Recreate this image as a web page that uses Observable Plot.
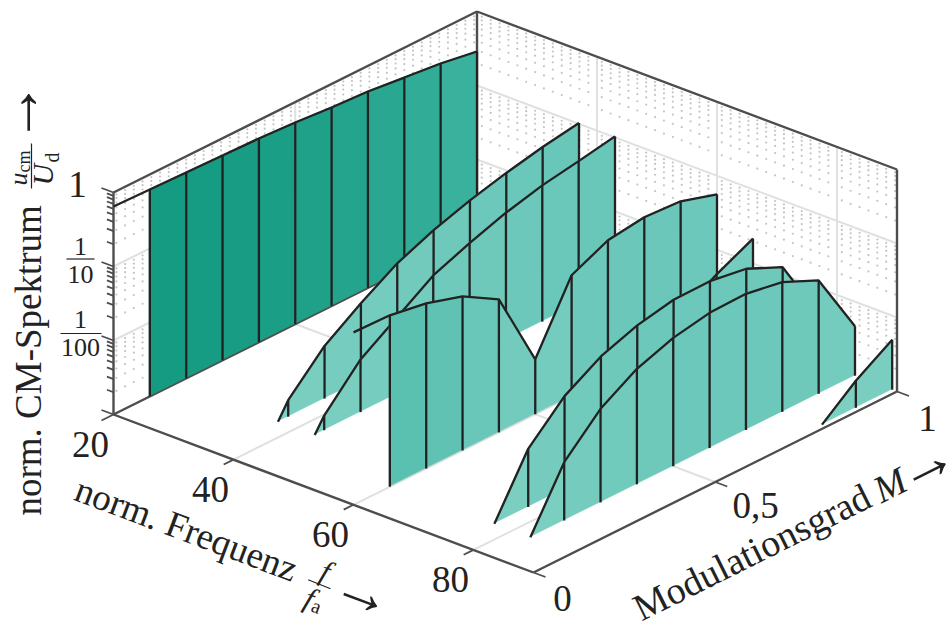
<!DOCTYPE html>
<html><head><meta charset="utf-8">
<script src="https://cdn.jsdelivr.net/npm/d3@7"></script>
<script src="https://cdn.jsdelivr.net/npm/@observablehq/plot@0.6"></script>
<style>html,body{margin:0;padding:0;background:#fff}svg{display:block}</style>
</head><body><div id="chart"></div>
<script>
// Values: spectral lines (frequency), modulation index, amplitude
const freqs = [20, 37, 43, 60, 66, 77, 83, 89.2];
const M20 = [0,.1,.2,.3,.4,.5,.6,.7,.8,.9,1];
const U20 = [.647,.625,.604,.583,.564,.529,.480,.450,.395,.348,.288];
const M37 = [.172,.2,.3,.4,.5,.6,.7,.8,.9,1];
const U37 = [.001,.00167,.00514,.01104,.0218,.0348,.0502,.0670,.0855,.1028];
const M43 = [.174,.2,.3,.4,.5,.6,.7,.8,.9,1];
const U43 = [.001,.00158,.00515,.01084,.0228,.0355,.0520,.0693,.0839,.1033];
const M60 = [0,.1,.2,.3,.4,.5,.6,.7,.8,.9,1];
const U60 = [.214,.207,.171,.121,.0627,.00553,.0431,.0728,.0847,.0794,.0562];
const M66 = [.65,.7,.8,.9,1];
const U66 = [.001,.00254,.00647,.01245,.0216];
const M77 = [.107,.2,.3,.4,.5,.6,.7,.8,.9,1];
const U77 = [.001,.00611,.0179,.0351,.0524,.0664,.0673,.0564,.0337,.00446];
const M83 = [.107,.2,.3,.4,.5,.6,.7,.8,.9,1];
const U83 = [.001,.00614,.0184,.0364,.0543,.0673,.0693,.0566,.0340,.00467];
const M89 = [.807,.9,1];
const U89 = [.001,.00232,.00474];
const seriesM = [M20,M37,M43,M60,M66,M77,M83,M89];
const seriesU = [U20,U37,U43,U60,U66,U77,U83,U89];
const fTicks = [20,40,60,80];
const mTicks = [0,.5,1];
const uMajor = [.001,.01,.1,1];
const mantissas = [2,3,4,5,6,7,8,9];

// 3-D box → drawing plane
const fHat = d3.scaleLinear([20,90],[0,1]);
const zHat = d3.scaleLog([.001,1],[0,1]);
const px = (f,M) => 113 + 420*fHat(f) + 363.5*M;
const py = (f,M,u=.001) => 414 + 158*fHat(f) - 181*M - 222*zHat(u);
const seg = (f1,M1,u1,f2,M2,u2) => ({x1:px(f1,M1),y1:py(f1,M1,u1),x2:px(f2,M2),y2:py(f2,M2,u2)});

const axisC="#4d4d4d", gridC="#e0e0e0", inkC="#222", dotC="#c4c4c4";
const serif="Liberation Serif";

// walls and grid
const minorU = uMajor.slice(0,3).flatMap(u=>mantissas.map(k=>u*k));
const fMinor = fTicks.flatMap(m=>d3.range(13).map(i=>m+.8+i*1.48)).filter(f=>f<90);
const mMinor = d3.range(42).map(i=>.008+i*.024);
const wallDots = [
  ...minorU.flatMap(u=>fMinor.map(f=>({x:px(f,1),y:py(f,1,u)}))),
  ...minorU.flatMap(u=>mMinor.map(M=>({x:px(20,M),y:py(20,M,u)})))
];
const gridLines = [
  ...[.01,.1].map(u=>seg(20,0,u,20,1,u)),
  ...[.01,.1].map(u=>seg(20,1,u,90,1,u)),
  ...[40,60,80].map(f=>seg(f,1,.001,f,1,1)),
  seg(20,.5,.001,20,.5,1),
  ...[40,60,80].map(f=>seg(f,0,.001,f,1,.001)),
  seg(20,.5,.001,90,.5,.001)
];
const axisLines = [
  seg(20,0,.001,20,0,1), seg(20,0,1,20,1,1), seg(20,1,1,90,1,1), seg(90,1,1,90,1,.001),
  seg(20,1,.001,20,1,1), seg(20,0,.001,20,1,.001),
  seg(20,0,.001,90,0,.001), seg(90,0,.001,90,1,.001)
];
const tickLines = [
  ...uMajor.map(u=>seg(18,0,u,20,0,u)),
  ...minorU.map(u=>seg(18.9,0,u,20,0,u)),
  ...fTicks.map(f=>seg(f,f===20?-.033:-.027,.001,f,0,.001)),
  ...mTicks.map(M=>seg(90,M,.001,92,M,.001))
];

// one waterfall slab per spectral line, painted back to front
const fillScale = {type:"linear",
  domain:[-3,-1.65,-1.04,-.7,-.5,-.2],
  range:["#7ed0c2","#72cbbd","#69c7b9","#59bfae","#3ab19c","#129a80"]};
const slabMarks = freqs.flatMap((f,s)=>{
  const Ms=seriesM[s], Us=seriesU[s];
  const pts=Ms.map((M,i)=>({M,u:Us[i],x:px(f,M),base:py(f,M),top:py(f,M,Us[i])}));
  const quads=[];
  for(let i=0;i<pts.length-1;i++){
    if(pts[i].M===0) continue;
    const lv=(Math.log10(pts[i].u)+Math.log10(pts[i+1].u))/2;
    quads.push({q:i,lv,x:pts[i].x,base:pts[i].base,top:pts[i].top});
    quads.push({q:i,lv,x:pts[i+1].x,base:pts[i+1].base,top:pts[i+1].top});
  }
  const verticals=pts.filter(p=>p.M>0 && Math.abs(p.M*10-Math.round(p.M*10))<1e-6);
  return [
    Plot.area(quads,{x1:"x",y1:"base",y2:"top",z:"q",fill:"lv",stroke:"lv",strokeWidth:.4}),
    Plot.link(verticals,{x1:"x",x2:"x",y1:"base",y2:"top",stroke:inkC,strokeWidth:2.3}),
    Plot.line(pts,{x:"x",y:"top",stroke:inkC,strokeWidth:2.3,strokeLinejoin:"miter",strokeLinecap:"butt"})
  ];
});

// labels
const lbl=(text,x,y,size,extra={})=>Plot.text([text],{x:()=>x,y:()=>y,text:d=>d,fontFamily:serif,fontSize:size,fill:inkC,...extra});
const fAngle=20.6, mAngle=-26.5;
const along=(a)=>({rotate:a,textAnchor:"start",lineAnchor:"bottom"});
const labelMarks=[
  lbl("20",90,444.5,37), lbl("40",210,489.5,37), lbl("60",330,534.5,37), lbl("80",450,579.5,37),
  lbl("0",562,598.5,37), lbl("0,5",755,506,37), lbl("1",927,419,37),
  lbl("1",77,185,37),
  lbl("1",80,246,26), lbl("10",80,274,26),
  lbl("1",80,319,26), lbl("100",80,347,26),
  lbl("norm. CM-Spektrum",40,515,37,along(-90)),
  lbl("u",26,185,26,{...along(-90),fontStyle:"italic"}),
  lbl("cm",29,172,18,along(-90)),
  lbl("U",52,185,30,{...along(-90),fontStyle:"italic"}),
  lbl("d",58,162,20,along(-90)),
  lbl("→",19,112,62,{rotate:-90}),
  lbl("norm. Frequenz",72,499,37,along(fAngle)),
  lbl("f",325,571,30,{rotate:fAngle,fontStyle:"italic"}),
  lbl("f",309,598,30,{rotate:fAngle,fontStyle:"italic"}),
  lbl("a",316,606,20,{rotate:fAngle}),
  lbl("→",363,591,60,{rotate:fAngle}),
  lbl("Modulationsgrad",641,621,38,along(mAngle)),
  lbl("M",881,503,38,{...along(mAngle),fontStyle:"italic"}),
  lbl("→",925,463,60,{rotate:mAngle})
];
const fractionBars=[
  {x1:66,y1:258.5,x2:94,y2:258.5},
  {x1:60,y1:333,x2:101,y2:333},
  {x1:31,y1:188,x2:31,y2:143},
  {x1:307.7,y1:579.3,x2:330,y2:588.3}
];

const plot=Plot.plot({
  width:946,height:623,margin:0,
  x:{domain:[0,946],range:[0,946],axis:null},
  y:{domain:[0,623],range:[0,623],axis:null},
  color:fillScale,
  marks:[
    Plot.link(gridLines,{x1:"x1",y1:"y1",x2:"x2",y2:"y2",stroke:gridC,strokeWidth:2}),
    Plot.dot(wallDots,{x:"x",y:"y",r:1.1,fill:dotC}),
    Plot.link(tickLines,{x1:"x1",y1:"y1",x2:"x2",y2:"y2",stroke:axisC,strokeWidth:1.8}),
    Plot.link(axisLines,{x1:"x1",y1:"y1",x2:"x2",y2:"y2",stroke:axisC,strokeWidth:2.4}),
    ...slabMarks,
    Plot.link(fractionBars,{x1:"x1",y1:"y1",x2:"x2",y2:"y2",stroke:inkC,strokeWidth:1.2}),
    ...labelMarks
  ]
});
document.getElementById("chart").append(plot);
</script></body></html>
